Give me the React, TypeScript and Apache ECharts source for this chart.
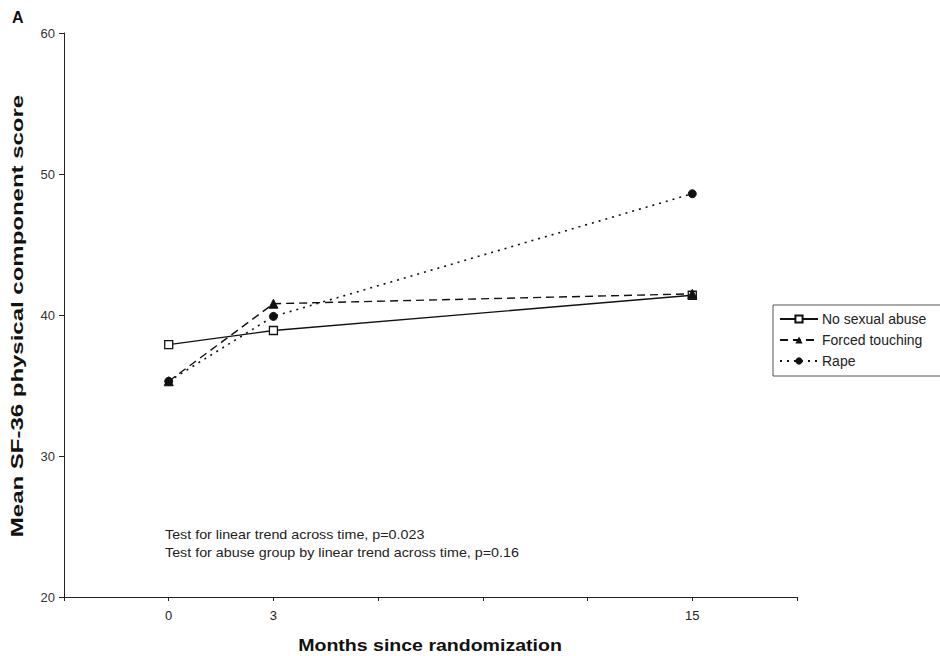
import React, { useEffect, useRef } from "react";
import * as echarts from "echarts";

const xCategories = ["", "0", "3", "", "", "", "15", ""];
const pointIndex = [1, 2, 6];
const noAbuse = [37.9, 38.9, 41.4];
const forcedTouching = [35.3, 40.8, 41.5];
const rape = [35.3, 39.9, 48.6];
const yTicks = { min: 20, max: 60, interval: 10 };
const xTitle = "Months since randomization";
const yTitle = "Mean SF-36 physical component score";
const notes = [
  "Test for linear trend across time, p=0.023",
  "Test for abuse group by linear trend across time, p=0.16",
];

const FONT = "'Liberation Sans', Arial, sans-serif";

export default function App() {
  const ref = useRef<HTMLDivElement>(null);
  useEffect(() => {
    if (!ref.current) return;
    const chart = echarts.init(ref.current, null, { renderer: "svg" });
    const mk = (vals: number[]) => vals.map((v, i) => [pointIndex[i], v]);
    chart.setOption({
      animation: false,
      textStyle: { fontFamily: FONT },
      grid: { left: 64, right: 143, top: 33, bottom: 59 },
      xAxis: {
        type: "category",
        data: xCategories,
        boundaryGap: false,
        axisLine: { lineStyle: { color: "#222", width: 1 } },
        axisTick: { interval: 0, length: 4, lineStyle: { color: "#222" } },
        axisLabel: { interval: 0, fontSize: 13, color: "#222", margin: 12, fontFamily: FONT },
        splitLine: { show: false },
      },
      yAxis: {
        type: "value",
        min: yTicks.min,
        max: yTicks.max,
        interval: yTicks.interval,
        axisLine: { show: true, lineStyle: { color: "#222", width: 1 } },
        axisTick: { show: true, length: 5, lineStyle: { color: "#222" } },
        axisLabel: { fontSize: 13, color: "#333", margin: 9, fontFamily: FONT },
        splitLine: { show: false },
      },
      legend: {
        orient: "vertical",
        left: 773,
        top: 305,
        itemWidth: 38,
        itemHeight: 9,
        itemGap: 7,
        padding: [7, 60, 8, 6],
        borderColor: "#555",
        borderWidth: 1,
        textStyle: { fontSize: 14, color: "#222", fontFamily: FONT, padding: [0, 0, 0, -1] },
        data: ["No sexual abuse", "Forced touching", "Rape"],
      },
      series: [
        {
          name: "No sexual abuse",
          type: "line",
          data: mk(noAbuse),
          symbol: "rect",
          symbolSize: 8,
          lineStyle: { color: "#111", width: 1.4, type: "solid" },
          itemStyle: { color: "#fff", borderColor: "#111", borderWidth: 1.3 },
        },
        {
          name: "Forced touching",
          type: "line",
          data: mk(forcedTouching),
          symbol: "triangle",
          symbolSize: 9,
          lineStyle: { color: "#111", width: 1.4, type: [8, 5] },
          itemStyle: { color: "#111", borderColor: "#111" },
        },
        {
          name: "Rape",
          type: "line",
          data: mk(rape),
          symbol: "circle",
          symbolSize: 8,
          lineStyle: { color: "#111", width: 1.6, type: [2, 5] },
          itemStyle: { color: "#111", borderColor: "#111" },
        },
      ],
      graphic: [
        {
          type: "text",
          left: 12,
          top: 9,
          style: { text: "A", font: `bold 16px ${FONT}`, fill: "#111" },
        },
        {
          type: "text",
          x: 18,
          y: 316,
          rotation: Math.PI / 2,
          scaleX: 1.5,
          style: {
            text: yTitle,
            font: `bold 16px ${FONT}`,
            fill: "#111",
            align: "center",
            verticalAlign: "middle",
          },
        },
        {
          type: "text",
          x: 430,
          y: 645,
          scaleX: 1.15,
          style: {
            text: xTitle,
            font: `bold 17px ${FONT}`,
            fill: "#111",
            align: "center",
            verticalAlign: "middle",
          },
        },
        ...notes.map((t, i) => ({
          type: "text",
          x: 165,
          y: 535 + i * 18,
          scaleX: 1.1,
          style: { text: t, font: `13px ${FONT}`, fill: "#222", align: "left", verticalAlign: "middle" },
        })),
      ],
    });
    return () => chart.dispose();
  }, []);
  return (
    <div
      ref={ref}
      style={{ position: "fixed", left: 0, top: 0, width: 940, height: 656, background: "#fff" }}
    />
  );
}
